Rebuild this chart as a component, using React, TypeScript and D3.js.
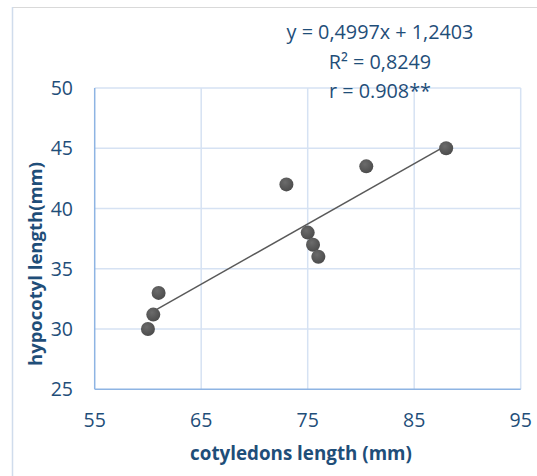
import React from "react";
import * as d3 from "d3";

const cotyledons = [60, 60.5, 61, 73, 75, 75.5, 76, 80.5, 88];
const hypocotyl = [30, 31.2, 33, 42, 38, 37, 36, 43.5, 45];
const xTicks = [55, 65, 75, 85, 95];
const yTicks = [25, 30, 35, 40, 45, 50];
const slope = 0.4997;
const intercept = 1.2403;
const labels = ["y = 0,4997x + 1,2403", "R² = 0,8249", "r = 0.908**"];

const W = 537;
const H = 476;
const font = "'Open Sans', sans-serif";
const textColor = "#1F4E79";

export default function App() {
  const x = d3.scaleLinear().domain([55, 95]).range([94.7, 520.7]);
  const y = d3.scaleLinear().domain([25, 50]).range([389.3, 88]);
  const xMin = d3.min(cotyledons)!;
  const xMax = d3.max(cotyledons)!;
  const line = d3.line<number>().x((d) => x(d)).y((d) => y(slope * d + intercept));

  return (
    <svg
      width={W}
      height={H}
      style={{ position: "absolute", left: 0, top: 0 }}
      fontFamily={font}
    >
      <rect x={0} y={0} width={W} height={H} fill="#fff" />
      {/* chart frame */}
      <line x1={12} y1={7.5} x2={W} y2={7.5} stroke="#D9D9D9" strokeWidth={1} />
      <line x1={12.5} y1={7} x2={12.5} y2={H} stroke="#D0DCEC" strokeWidth={1.5} />
      {/* gridlines */}
      {yTicks.slice(1).map((t) => (
        <line key={"gy" + t} x1={x(55)} x2={x(95)} y1={y(t)} y2={y(t)} stroke="#D6E2F3" strokeWidth={1.5} />
      ))}
      {xTicks.slice(1).map((t) => (
        <line key={"gx" + t} x1={x(t)} x2={x(t)} y1={y(25)} y2={y(50)} stroke="#D6E2F3" strokeWidth={1.5} />
      ))}
      {/* axes */}
      <line x1={x(55)} x2={x(55)} y1={y(25)} y2={y(50)} stroke="#8EB4E3" strokeWidth={1.5} />
      <line x1={x(55)} x2={x(95)} y1={y(25)} y2={y(25)} stroke="#8EB4E3" strokeWidth={1.5} />
      {/* tick labels */}
      {yTicks.map((t) => (
        <text key={"ty" + t} x={73} y={y(t) + 7} textAnchor="end" fontSize={19.5} fill={textColor}>
          {t}
        </text>
      ))}
      {xTicks.map((t) => (
        <text key={"tx" + t} x={x(t)} y={427} textAnchor="middle" fontSize={19.5} fill={textColor}>
          {t}
        </text>
      ))}
      {/* axis titles */}
      <text x={301} y={460} textAnchor="middle" fontSize={18.8} fontWeight="bold" fill={textColor}>
        cotyledons length (mm)
      </text>
      <text
        transform={`translate(42,264) rotate(-90)`}
        textAnchor="middle"
        fontSize={18.5}
        fontWeight="bold"
        fill={textColor}
      >
        hypocotyl length(mm)
      </text>
      {/* trendline */}
      <path d={line([xMin, xMax]) || ""} fill="none" stroke="#595959" strokeWidth={1.5} />
      {/* points */}
      <defs>
        <radialGradient id="pt" cx="40%" cy="35%" r="70%">
          <stop offset="0%" stopColor="#6b6b6b" />
          <stop offset="100%" stopColor="#4a4a4a" />
        </radialGradient>
      </defs>
      {cotyledons.map((c, i) => (
        <circle key={i} cx={x(c)} cy={y(hypocotyl[i])} r={7} fill="url(#pt)" />
      ))}
      {/* equation labels */}
      {labels.map((l, i) => (
        <text key={l} x={380} y={39 + i * 29.5} textAnchor="middle" fontSize={19.8} fill={textColor}>
          {l}
        </text>
      ))}
    </svg>
  );
}
